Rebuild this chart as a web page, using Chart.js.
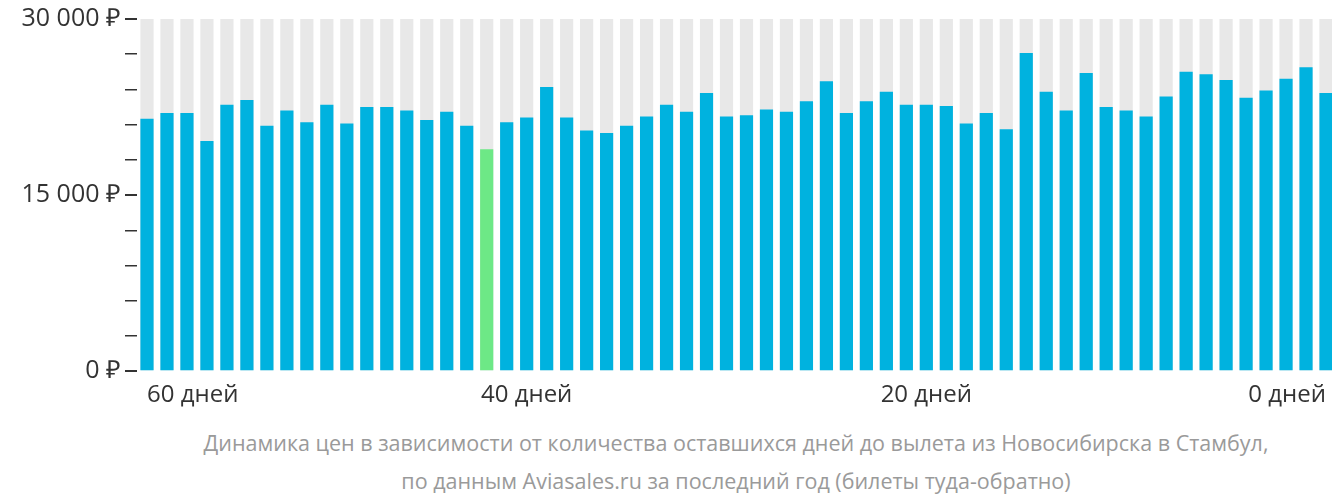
<!DOCTYPE html>
<html><head><meta charset="utf-8">
<script src="https://cdn.jsdelivr.net/npm/chart.js@4"></script>
<style>
body{margin:0;background:#fff;font-family:"Open Sans",sans-serif;}
#wrap{position:absolute;left:0;top:0;width:1336px;height:412px;}
#cap{position:absolute;left:140px;width:1192px;top:424px;text-align:center;color:#9a9a9a;font-size:21.5px;line-height:38px;}
</style></head><body>
<div id="wrap"><canvas id="c"></canvas></div>
<div id="cap">Динамика цен в зависимости от количества оставшихся дней до вылета из Новосибирска в Стамбул,<br>по данным Aviasales.ru за последний год (билеты туда-обратно)</div>
<script>
const days = Array.from({length:60},(_,i)=>i);
const xLabels = {0:"60 дней",19:"40 дней",39:"20 дней",59:"0 дней"};
const prices = [21500,22000,22000,19600,22700,23100,20900,22200,21200,22700,21100,22500,22500,22200,21400,22100,20900,18900,21200,21600,24200,21600,20500,20300,20900,21700,22700,22100,23700,21700,21800,22300,22100,23000,24700,22000,23000,23800,22700,22700,22600,21100,22000,20600,27100,23800,22200,25400,22500,22200,21700,23400,25500,25300,24800,23300,23900,24900,25900,23700];
const yTicks = [0,15000,30000];
const bg = prices.map(()=>30000);
const minP = Math.min(...prices);
new Chart(document.getElementById('c'),{
 type:'bar',
 data:{labels:days,datasets:[
  {data:prices,backgroundColor:prices.map(v=>v===minP?'#6de886':'#00b2df'),grouped:false,order:1,barPercentage:0.66,categoryPercentage:1},
  {data:bg,backgroundColor:'#e8e8e8',grouped:false,order:2,barPercentage:0.66,categoryPercentage:1}
 ]},
 options:{responsive:true,maintainAspectRatio:false,animation:false,
  layout:{padding:{top:0,right:0,left:0,bottom:0}},
  plugins:{legend:{display:false},tooltip:{enabled:false}},
  scales:{
   x:{grid:{display:false},border:{display:false},
      ticks:{autoSkip:false,maxRotation:0,align:'inner',color:'#333',font:{family:'Open Sans',size:24},padding:2,
      callback:(v,i)=>xLabels[i]||''}},
   y:{min:0,max:30000,afterBuildTicks:a=>{a.ticks=[];for(let v=0;v<=30000;v+=3000)a.ticks.push({value:v});},
      grid:{drawOnChartArea:false,drawTicks:true,tickLength:c=>12,color:'#333',lineWidth:c=>yTicks.includes(c.tick.value)?2:1.5},
      border:{display:false},
      afterFit:s=>{s.width=137;},
      ticks:{color:'#333',font:{family:'Open Sans',size:25},padding:4,
        callback:v=>yTicks.includes(v)?(v===0?'0 ₽':(v/1000)+' 000 ₽'):''}}
  }}
});
</script></body></html>
